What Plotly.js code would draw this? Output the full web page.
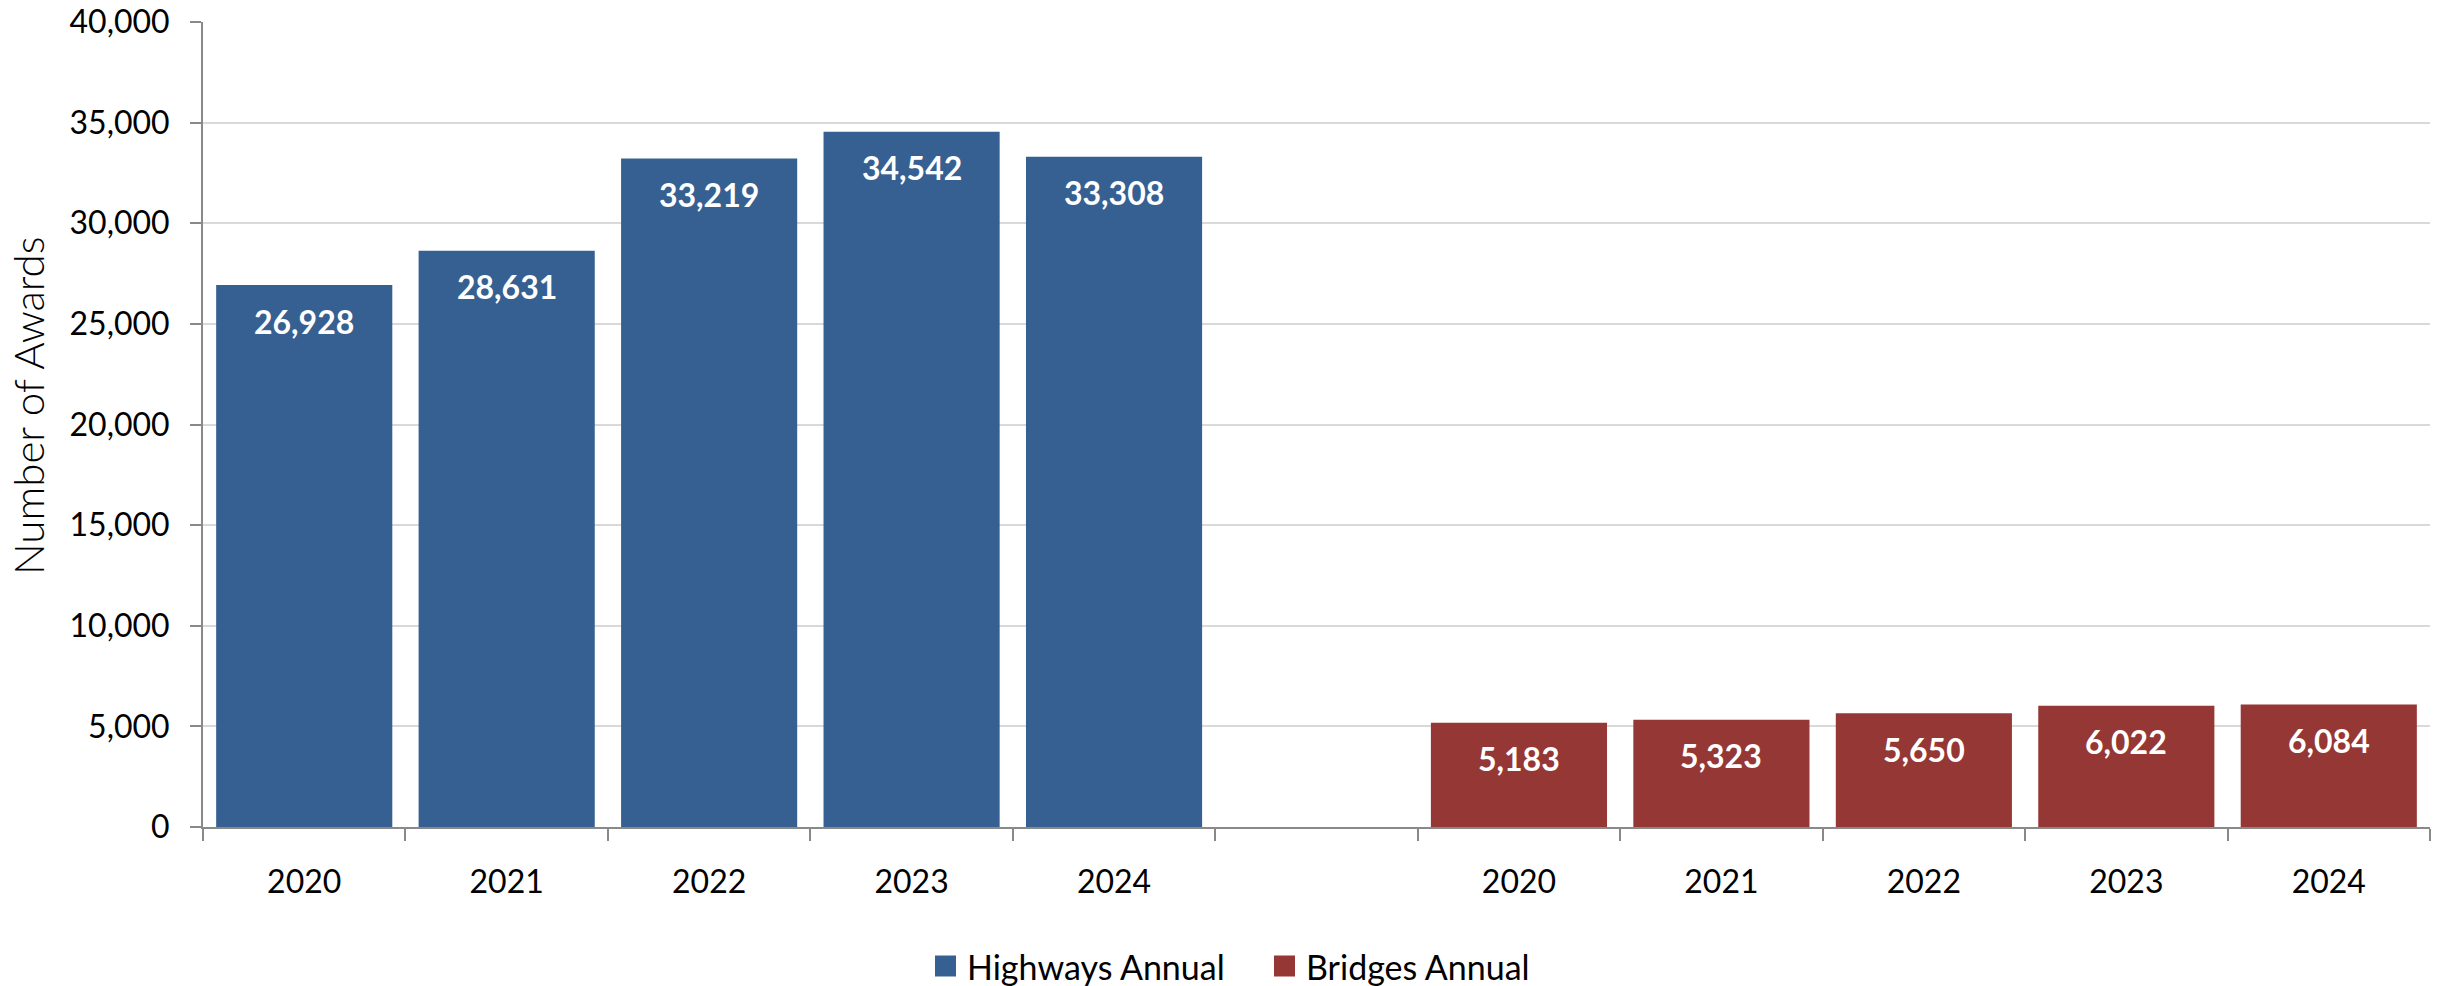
<!DOCTYPE html>
<html>
<head>
<meta charset="utf-8">
<script src="https://cdn.plot.ly/plotly-3.0.1.min.js"></script>
<style>
  html, body { margin: 0; padding: 0; background: #ffffff; }
  #chart { width: 2448px; height: 986px; }
</style>
</head>
<body>
<div id="chart"></div>
<script>
// Annual award counts, 2020-2024
const years = ['2020', '2021', '2022', '2023', '2024'];
const highwaysAnnual = [26928, 28631, 33219, 34542, 33308];
const bridgesAnnual = [5183, 5323, 5650, 6022, 6084];
const yTickValues = [0, 5000, 10000, 15000, 20000, 25000, 30000, 35000, 40000];
const seriesNames = ['Highways Annual', 'Bridges Annual'];
const seriesColors = ['#376092', '#953735'];
const yAxisTitle = 'Number of Awards';

// Slot positions: highways in 0..4, an empty slot, bridges in 6..10
const hx = years.map((_, i) => i);
const bx = years.map((_, i) => i + years.length + 1);
const nSlots = years.length * 2 + 1;
const boundaries = Array.from({ length: nSlots + 1 }, (_, i) => i - 0.5);

const FONT = 'Lato, "Open Sans", sans-serif';
const AXIS_GREY = '#898989';

const W = 2448, H = 986;
const M = { l: 203, r: 18, t: 22, b: 159 };
const plotW = W - M.l - M.r, plotH = H - M.t - M.b;
// pixel -> paper (plot-area normalised) coordinates
const px = x => (x - M.l) / plotW;
const py = y => (H - M.b - y) / plotH;

const fmt = v => v.toLocaleString('en-US');

const traces = [
  {
    type: 'bar', x: hx, y: highwaysAnnual, name: seriesNames[0],
    marker: { color: seriesColors[0] }, hoverinfo: 'y'
  },
  {
    type: 'bar', x: bx, y: bridgesAnnual, name: seriesNames[1],
    marker: { color: seriesColors[1] }, hoverinfo: 'y'
  }
];

// value labels inside the top of each bar
const labelFor = (xs, ys) => xs.map((x, i) => ({
  x: x, y: ys[i], xref: 'x', yref: 'y',
  text: '<b>' + fmt(ys[i]) + '</b>',
  showarrow: false, yanchor: 'middle', yshift: -36,
  font: { family: FONT, size: 32, color: '#ffffff' }
}));

// legend row below the axis: square swatch followed by series name
const legendY = 966;
const legendItems = [{ left: 935 }, { left: 1274 }];
const legendShapes = legendItems.map((it, i) => ({
  type: 'rect', xref: 'paper', yref: 'paper',
  x0: px(it.left), x1: px(it.left + 21),
  y0: py(legendY + 10.5), y1: py(legendY - 10.5),
  fillcolor: seriesColors[i], line: { width: 0 }
}));
const legendLabels = legendItems.map((it, i) => ({
  xref: 'paper', yref: 'paper',
  x: px(it.left + 30), y: py(legendY),
  xanchor: 'left', yanchor: 'middle', showarrow: false,
  text: seriesNames[i],
  font: { family: FONT, size: 34, color: '#000000' }
}));

// rotated y-axis title
const titleLabel = {
  xref: 'paper', yref: 'paper',
  x: px(28), y: py(406), xanchor: 'center', yanchor: 'middle',
  textangle: -90, showarrow: false,
  text: yAxisTitle,
  font: { family: FONT, size: 42, weight: 300, color: '#000000' }
};

const layout = {
  width: W, height: H,
  margin: { l: M.l, r: M.r, t: M.t, b: M.b, autoexpand: false },
  paper_bgcolor: '#ffffff', plot_bgcolor: '#ffffff',
  font: { family: FONT, size: 32, color: '#000000' },
  barmode: 'overlay', bargap: 0.13,
  showlegend: false,
  xaxis: {
    range: [-0.5, nSlots - 0.5],
    tickmode: 'array',
    tickvals: hx.concat(bx),
    ticktext: years.concat(years),
    ticks: '', ticklabelstandoff: 26,
    tickfont: { family: FONT, size: 32, color: '#000000' },
    showline: true, linecolor: AXIS_GREY, linewidth: 2,
    showgrid: false, zeroline: false, fixedrange: true, automargin: false,
    minor: {
      tickmode: 'array', tickvals: boundaries,
      ticks: 'outside', ticklen: 12, tickwidth: 2, tickcolor: AXIS_GREY,
      showgrid: false
    }
  },
  yaxis: {
    range: [0, 40000],
    tickmode: 'array', tickvals: yTickValues,
    tickformat: ',d',
    ticks: 'outside', ticklen: 11, tickwidth: 2, tickcolor: AXIS_GREY,
    ticklabelstandoff: 14,
    tickfont: { family: FONT, size: 32, color: '#000000' },
    showline: true, linecolor: AXIS_GREY, linewidth: 2,
    showgrid: true, gridcolor: '#d9d9d9', gridwidth: 2,
    zeroline: false, fixedrange: true, automargin: false
  },
  shapes: legendShapes,
  annotations: labelFor(hx, highwaysAnnual)
    .concat(labelFor(bx, bridgesAnnual))
    .concat(legendLabels)
    .concat([titleLabel])
};

Plotly.newPlot('chart', traces, layout, { displayModeBar: false, staticPlot: true });
</script>
</body>
</html>
